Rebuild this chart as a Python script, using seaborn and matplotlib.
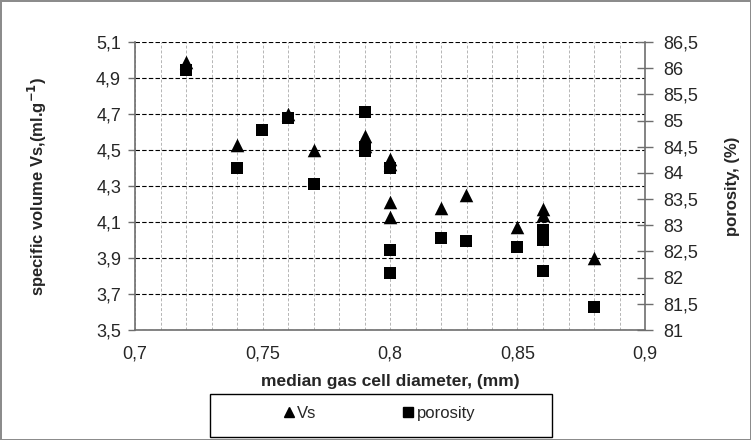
import matplotlib
matplotlib.use("Agg")
import matplotlib.pyplot as plt
import matplotlib.patches as mpatches
from matplotlib.ticker import FixedLocator, MultipleLocator, FuncFormatter
from matplotlib.lines import Line2D
import seaborn as sns
import pandas as pd

# specific volume Vs (left axis)
vs_diameter = [0.72, 0.74, 0.76, 0.77, 0.79, 0.79, 0.80, 0.80, 0.80, 0.80,
               0.82, 0.83, 0.85, 0.86, 0.86, 0.88]
vs_values = [4.99, 4.53, 4.70, 4.50, 4.58, 4.52, 4.45, 4.42, 4.21, 4.13,
             4.18, 4.25, 4.07, 4.17, 4.14, 3.90]

# porosity (right axis)
por_diameter = [0.72, 0.74, 0.75, 0.76, 0.77, 0.79, 0.79, 0.79, 0.80, 0.80,
                0.80, 0.82, 0.83, 0.85, 0.86, 0.86, 0.86, 0.88]
por_values = [85.97, 84.10, 84.81, 85.04, 83.79, 85.16, 84.50, 84.42, 84.10, 82.52,
              82.08, 82.75, 82.70, 82.58, 82.91, 82.72, 82.12, 81.43]

x_ticks = [0.70, 0.75, 0.80, 0.85, 0.90]
vs_ticks = [3.5, 3.7, 3.9, 4.1, 4.3, 4.5, 4.7, 4.9, 5.1]
por_ticks = [81, 81.5, 82, 82.5, 83, 83.5, 84, 84.5, 85, 85.5, 86, 86.5]

sns.set_style("white")
plt.rcParams["font.family"] = ["Liberation Sans", "DejaVu Sans"]

df_vs = pd.DataFrame({"d": vs_diameter, "v": vs_values})
df_por = pd.DataFrame({"d": por_diameter, "p": por_values})

fig = plt.figure(figsize=(7.51, 4.40), dpi=100)
ax = fig.add_axes([135 / 751, 110 / 440, 510 / 751, 288 / 440])
ax2 = ax.twinx()

sns.scatterplot(data=df_vs, x="d", y="v", ax=ax, marker="^", s=95,
                color="black", edgecolor="black", linewidth=0, zorder=3)
sns.scatterplot(data=df_por, x="d", y="p", ax=ax2, marker="s", s=80,
                color="black", edgecolor="black", linewidth=0, zorder=3)

comma = FuncFormatter(lambda v, p: f"{v:g}".replace(".", ","))

ax.set_xlim(0.7, 0.9)
ax.set_ylim(3.5, 5.1)
ax2.set_ylim(81, 86.5)
ax.xaxis.set_major_locator(FixedLocator(x_ticks))
ax.xaxis.set_minor_locator(MultipleLocator(0.01))
ax.yaxis.set_major_locator(FixedLocator(vs_ticks))
ax2.yaxis.set_major_locator(FixedLocator(por_ticks))
ax.xaxis.set_major_formatter(comma)
ax.yaxis.set_major_formatter(comma)
ax2.yaxis.set_major_formatter(comma)

ax.grid(False)
ax2.grid(False)
ax.grid(which="both", axis="x", color="#b5b5b5", linestyle=(0, (3, 2)), linewidth=0.7)
ax.grid(which="major", axis="y", color="black", linestyle=(0, (4, 2)), linewidth=0.8)
ax.set_axisbelow(True)

for a in (ax, ax2):
    for side in ("left", "bottom", "right", "top"):
        a.spines[side].set_visible(False)
ax.spines["left"].set_visible(True)
ax.spines["bottom"].set_visible(True)
ax2.spines["right"].set_visible(True)
for sp in (ax.spines["left"], ax.spines["bottom"], ax2.spines["right"]):
    sp.set_color("#6e6e6e")
    sp.set_linewidth(1.2)

ax.tick_params(axis="x", which="major", direction="out", length=5, width=1,
               color="#6e6e6e", labelsize=13, pad=6)
ax.tick_params(axis="x", which="minor", length=0)
ax.tick_params(axis="y", direction="out", length=5, width=1, color="#6e6e6e",
               labelsize=13, pad=5, left=True)
ax2.tick_params(axis="y", direction="inout", length=12, width=1, color="#6e6e6e",
                labelsize=13, pad=7, right=True)

ax.set_xlabel("median gas cell diameter, (mm)", fontsize=12.5, fontweight="bold")
ax.xaxis.set_label_coords(0.5, -44 / 288)
ax.set_ylabel("specific volume Vs,(ml.g$^{\\mathbf{-1}}$)", fontsize=12,
              fontweight="bold")
ax.yaxis.set_label_coords(-86 / 510, 0.5)
ax2.set_ylabel("porosity, (%)", fontsize=12, fontweight="bold", rotation=90)
ax2.yaxis.set_label_coords(1 + 80 / 510, 0.5)

# legend below the x label, in its own black box
fig.patches.append(mpatches.Rectangle((210 / 751, 3 / 440), 342 / 751, 43 / 440,
                                      transform=fig.transFigure, facecolor="none",
                                      edgecolor="black", linewidth=1))
handles = [Line2D([], [], marker="^", color="black", linestyle="none", markersize=7),
           Line2D([], [], marker="s", color="black", linestyle="none", markersize=7)]
fig.legend(handles, ["Vs", "porosity"], loc="center", bbox_to_anchor=(378 / 751, 27 / 440),
           ncol=2, frameon=False, fontsize=12, handletextpad=0.0, columnspacing=5.0,
           handlelength=1.0)

fig.patch.set_edgecolor("#8c8c8c")
fig.patch.set_linewidth(2)
fig.savefig("out.png", dpi=100, edgecolor=fig.get_edgecolor())
